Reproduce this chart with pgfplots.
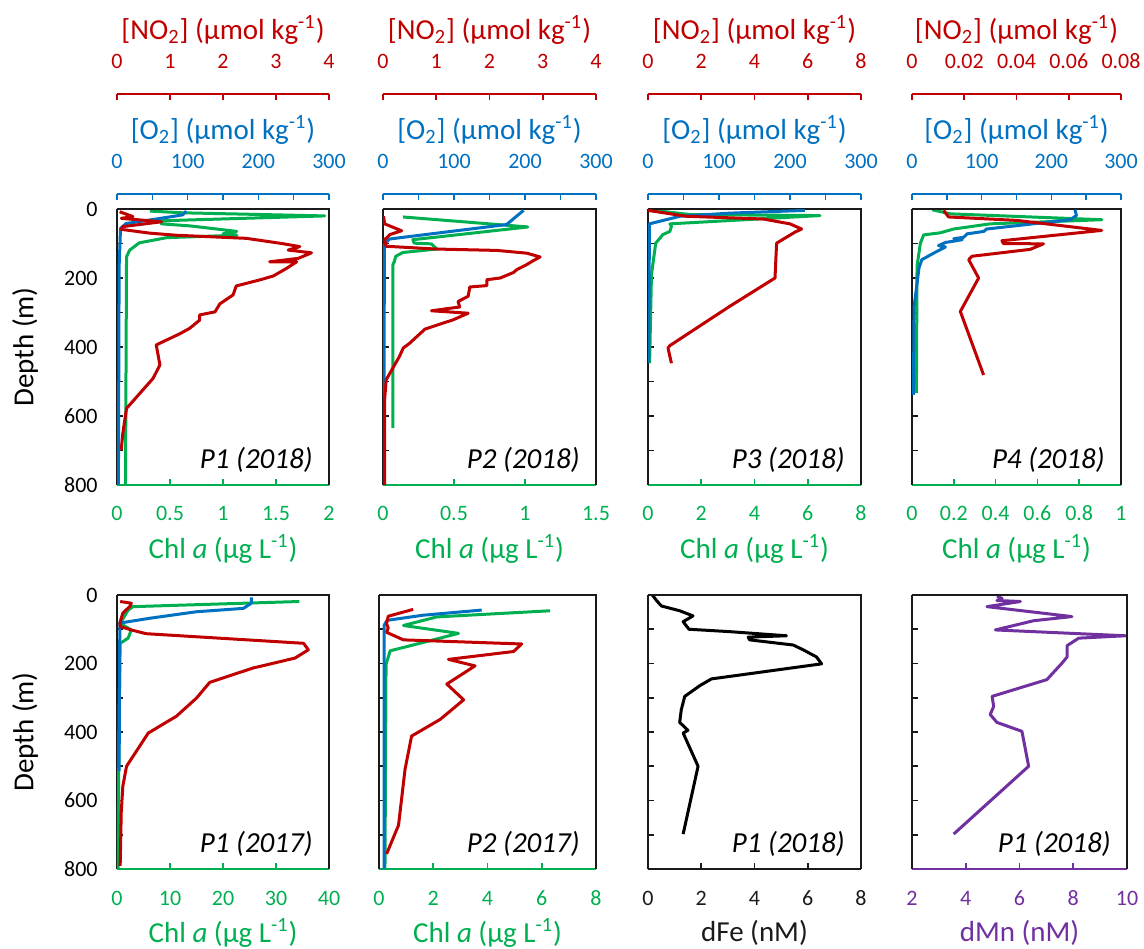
\documentclass[border=0pt]{standalone}
\usepackage{fontspec}
\setmainfont{Carlito}
\usepackage{pgfplots}
\pgfplotsset{compat=1.18}
\definecolor{cred}{HTML}{C00000}
\definecolor{cblue}{HTML}{0070C0}
\definecolor{cgreen}{HTML}{00B050}
\definecolor{cpurple}{HTML}{7030A0}
\definecolor{cframe}{HTML}{1A1A1A}
\newcommand{\tickfont}{\fontsize{11}{13}\selectfont}
\newcommand{\labfont}{\fontsize{14.5}{17}\selectfont}
\newcommand{\unitlab}{(µmol kg\textsuperscript{-1})}
\newcommand{\chllab}{Chl \textit{a} (µg L\textsuperscript{-1})}
\pgfplotsset{
  base/.style={scale only axis, /pgf/number format/assume math mode=true,
    scaled x ticks=false, scaled y ticks=false,
    ticklabel style={font=\tickfont}, label style={font=\labfont}},
  panel/.style={base, anchor=south west, ymin=-800, ymax=0,
    axis x line*=bottom, axis y line*=left,
    y axis line style={-, draw=cframe, line width=0.8pt},
    ytick={-800,-700,...,0}, yticklabels={},
    ytick style={draw=cframe, line width=0.8pt},
    tick align=inside, major tick length=3pt,
    xticklabel style={anchor=base, inner sep=0pt, yshift=-18pt},
    yticklabel style={anchor=east, inner sep=0pt, xshift=-9.5pt},
    clip mode=individual},
  toplab/.style={xlabel style={at={(axis description cs:0.5,-0.232)}, anchor=center}},
  botlab/.style={xlabel style={at={(axis description cs:0.5,-0.234)}, anchor=center}},
  firstcol/.style={yticklabels={800,,600,,400,,200,,0}, ylabel={Depth (m)},
    ylabel style={at={(axis description cs:-0.434,0.5)}, anchor=center}},
  xcol/.style={x axis line style={-, draw=#1, line width=0.8pt},
    xtick style={draw=#1, line width=0.8pt}, xticklabel style={text=#1},
    xlabel style={text=#1}},
  over/.style={scale only axis, anchor=south west, ymin=-800, ymax=0, hide axis},
  sc/.style={base, anchor=north west, height=1pt, ymin=0, ymax=1,
    axis x line*=top, axis y line=none, tick align=inside, major tick length=3pt,
    x axis line style={-, draw=#1, line width=0.8pt},
    xtick style={draw=#1, line width=0.8pt}, xticklabel style={text=#1},
    xlabel style={text=#1},
    xticklabel style={anchor=base, inner sep=0pt, yshift=12.8pt},
    xlabel style={at={(axis description cs:0.5,1)}, anchor=center, yshift=32pt}},
  o2sc/.style={sc=cblue, xmin=0, xmax=300, xtick={0,50,...,300},
    xticklabels={0,,100,,200,,300}, xlabel={[O\textsubscript{2}] \unitlab}},
  every axis plot/.append style={line width=1.5pt, line join=round, no marks},
}
\newcommand{\plab}[1]{\node[anchor=south east, inner sep=0pt, font=\labfont\itshape] at (rel axis cs:1,0) [xshift=-8pt, yshift=6pt] {#1};}
\newcommand{\frm}{\draw[cframe, line width=0.8pt] (rel axis cs:0,1) -- (rel axis cs:1,1) -- (rel axis cs:1,0);}
\begin{document}
\begin{tikzpicture}
\useasboundingbox (0,0) rectangle (572pt,474pt);
% ================= TOP ROW =================
% ---------- P1 2018 ----------
\begin{axis}[panel, firstcol, toplab, xcol=cgreen, at={(58.5pt,231.5pt)}, width=106pt, height=138pt,
  xmin=0, xmax=2, xtick={0,0.5,1,1.5,2}, xticklabels={0,0.5,1,1.5,2}, xlabel={\chllab}]
\addplot[cgreen] table[y expr=-\thisrowno{1}] {
x d
0.31 6
0.62 11
1.96 20
0.43 34
0.42 43
0.69 49
0.97 59
1.13 65
1.00 72
1.13 76
0.47 83
0.21 98
0.12 119
0.09 138
0.08 800
};
\frm
\plab{P1 (2018)}
\end{axis}
\begin{axis}[over, at={(58.5pt,231.5pt)}, width=106pt, height=138pt, xmin=0, xmax=300]
\addplot[cblue] table[y expr=-\thisrowno{1}] {
x d
98 6
93 17
46 32
13 42
5 56
3 167
2 800
};
\end{axis}
\begin{axis}[over, at={(58.5pt,231.5pt)}, width=106pt, height=138pt, xmin=0, xmax=4]
\addplot[cred] table[y expr=-\thisrowno{1}] {
x d
0.05 8
0.30 22
0.08 27
0.84 37
0.11 51
0.08 59
0.62 70
1.12 76
2.44 85
3.11 100
3.45 109
3.23 119
3.67 127
3.42 143
2.88 153
3.39 153
3.20 172
2.95 194
2.73 204
2.25 223
2.19 249
1.94 275
1.85 298
1.56 307
1.56 322
1.37 346
1.18 362
0.74 394
0.81 452
0.68 491
0.18 578
0.11 650
0.08 698
};
\end{axis}
\begin{axis}[o2sc, at={(58.5pt,377pt)}, width=106pt]\end{axis}
\begin{axis}[sc=cred, at={(58.5pt,427pt)}, width=106pt, xmin=0, xmax=4, xtick={0,1,2,3,4},
  xticklabels={0,1,2,3,4}, xlabel={[NO\textsubscript{2}] \unitlab}]\end{axis}
% ---------- P2 2018 ----------
\begin{axis}[panel, toplab, xcol=cgreen, at={(191.5pt,231.5pt)}, width=106.5pt, height=138pt,
  xmin=0, xmax=1.5, xtick={0,0.5,1,1.5}, xticklabels={0,0.5,1,1.5}, xlabel={\chllab}]
\addplot[cgreen] table[y expr=-\thisrowno{1}] {
x d
0.14 23
1.02 52
0.21 89
0.22 99
0.34 101
0.38 116
0.14 126
0.09 137
0.08 152
0.07 161
0.07 635
};
\frm
\plab{P2 (2018)}
\end{axis}
\begin{axis}[over, at={(191.5pt,231.5pt)}, width=106.5pt, height=138pt, xmin=0, xmax=300]
\addplot[cblue] table[y expr=-\thisrowno{1}] {
x d
198 4
174 45
9 87
2 103
1 800
};
\end{axis}
\begin{axis}[over, at={(191.5pt,231.5pt)}, width=106.5pt, height=138pt, xmin=0, xmax=4]
\addplot[cred] table[y expr=-\thisrowno{1}] {
x d
0.01 21
0.03 43
0.35 63
0.13 74
0.03 89
0.06 108
1.00 116
2.14 120
2.70 128
2.95 139
2.83 149
2.70 161
2.51 176
2.45 184
2.20 200
1.95 205
1.95 222
1.63 226
1.60 253
1.41 268
1.44 284
0.91 295
1.60 302
1.32 321
0.79 348
0.50 389
0.38 403
0.31 427
0.06 495
0.03 553
0.03 800
};
\end{axis}
\begin{axis}[o2sc, at={(191.5pt,377pt)}, width=106.5pt]\end{axis}
\begin{axis}[sc=cred, at={(191.5pt,427pt)}, width=106.5pt, xmin=0, xmax=4, xtick={0,1,2,3,4},
  xticklabels={0,1,2,3,4}, xlabel={[NO\textsubscript{2}] \unitlab}]\end{axis}
% ---------- P3 2018 ----------
\begin{axis}[panel, toplab, xcol=cgreen, at={(324pt,231.5pt)}, width=106.5pt, height=138pt,
  xmin=0, xmax=8, xtick={0,2,4,6,8}, xticklabels={0,2,4,6,8}, xlabel={\chllab}]
\addplot[cgreen] table[y expr=-\thisrowno{1}] {
x d
0.25 4
1.57 16
6.46 19
0.82 43
0.88 50
0.82 65
0.56 74
0.29 99
0.13 190
0.06 447
};
\frm
\plab{P3 (2018)}
\end{axis}
\begin{axis}[over, at={(324pt,231.5pt)}, width=106.5pt, height=138pt, xmin=0, xmax=300]
\addplot[cblue] table[y expr=-\thisrowno{1}] {
x d
221 4
115 12
45 21
2 43
1 447
};
\end{axis}
\begin{axis}[over, at={(324pt,231.5pt)}, width=106.5pt, height=138pt, xmin=0, xmax=8]
\addplot[cred] table[y expr=-\thisrowno{1}] {
x d
0 4
1.44 21
4.33 29
5.33 43
5.77 58
5.52 67
4.83 99
4.77 200
3.07 282
0.82 396
0.75 403
0.88 447
};
\end{axis}
\begin{axis}[o2sc, at={(324pt,377pt)}, width=106.5pt]\end{axis}
\begin{axis}[sc=cred, at={(324pt,427pt)}, width=106.5pt, xmin=0, xmax=8, xtick={0,2,4,6,8},
  xticklabels={0,2,4,6,8}, xlabel={[NO\textsubscript{2}] \unitlab}]\end{axis}
% ---------- P4 2018 ----------
\begin{axis}[panel, toplab, xcol=cgreen, at={(456pt,231.5pt)}, width=104.5pt, height=138pt,
  xmin=0, xmax=1, xtick={0,0.2,0.4,0.6,0.8,1}, xticklabels={0,0.2,0.4,0.6,0.8,1}, xlabel={\chllab}]
\addplot[cgreen] table[y expr=-\thisrowno{1}] {
x d
0.096 2
0.183 14
0.908 31
0.374 43
0.199 58
0.135 69
0.056 75
0.040 99
0.024 166
0.021 534
};
\frm
\plab{P4 (2018)}
\end{axis}
\begin{axis}[over, at={(456pt,231.5pt)}, width=104.5pt, height=138pt, xmin=0, xmax=300]
\addplot[cblue] table[y expr=-\thisrowno{1}] {
x d
234 2
236 19
227 31
107 58
103 65
79 72
74 82
60 86
72 89
48 97
38 106
48 110
31 128
14 147
10 171
3 283
2 539
};
\end{axis}
\begin{axis}[over, at={(456pt,231.5pt)}, width=104.5pt, height=138pt, xmin=0, xmax=0.08]
\addplot[cred] table[y expr=-\thisrowno{1}] {
x d
0.0121 4
0.0140 23
0.0401 33
0.0726 62
0.0344 92
0.0350 100
0.0503 101
0.0452 117
0.0229 137
0.0217 147
0.0255 200
0.0185 297
0.0274 481
};
\end{axis}
\begin{axis}[o2sc, at={(456pt,377pt)}, width=104.5pt]\end{axis}
\begin{axis}[sc=cred, at={(456pt,427pt)}, width=104.5pt, xmin=0, xmax=0.08, xtick={0,0.02,0.04,0.06,0.08},
  xticklabels={0,0.02,0.04,0.06,0.08}, xlabel={[NO\textsubscript{2}] \unitlab}]\end{axis}
% ================= BOTTOM ROW =================
% ---------- P1 2017 ----------
\begin{axis}[panel, firstcol, botlab, xcol=cgreen, at={(58.5pt,39.5pt)}, width=106pt, height=137pt,
  xmin=0, xmax=40, xtick={0,10,20,30,40}, xticklabels={0,10,20,30,40}, xlabel={\chllab}]
\addplot[cgreen] table[y expr=-\thisrowno{1}] {
x d
34.4 19
3.0 34
2.1 44
0.8 78
0.5 82
2.7 102
2.1 126
0.6 141
0.4 344
0.2 800
};
\frm
\plab{P1 (2017)}
\end{axis}
\begin{axis}[over, at={(58.5pt,39.5pt)}, width=106pt, height=137pt, xmin=0, xmax=300]
\addplot[cblue] table[y expr=-\thisrowno{1}] {
x d
190 7
190 24
179 39
112 49
46 68
4 82
3 514
};
\end{axis}
\begin{axis}[over, at={(58.5pt,39.5pt)}, width=106pt, height=137pt, xmin=0, xmax=4]
\addplot[cred] table[y expr=-\thisrowno{1}] {
x d
0.06 19
0.27 24
0.25 32
0.11 53
0.06 78
0.06 92
0.27 102
0.55 113
3.52 141
3.61 160
3.36 184
2.82 204
2.57 213
1.75 255
1.50 301
1.12 354
0.59 403
0.18 500
0.11 558
0.08 635
0.06 791
};
\end{axis}
% ---------- P2 2017 ----------
\begin{axis}[panel, botlab, xcol=cgreen, at={(189.5pt,39.5pt)}, width=108.5pt, height=137pt,
  xmin=0, xmax=8, xtick={0,2,4,6,8}, xticklabels={0,2,4,6,8}, xlabel={\chllab}]
\addplot[cgreen] table[y expr=-\thisrowno{1}] {
x d
6.31 46
2.13 64
0.90 89
2.93 112
2.00 131
0.41 163
0.26 203
0.22 800
};
\frm
\plab{P2 (2017)}
\end{axis}
\begin{axis}[over, at={(189.5pt,39.5pt)}, width=108.5pt, height=137pt, xmin=0, xmax=300]
\addplot[cblue] table[y expr=-\thisrowno{1}] {
x d
142 44
61 59
11 74
7 89
7 800
};
\end{axis}
\begin{axis}[over, at={(189.5pt,39.5pt)}, width=108.5pt, height=137pt, xmin=0, xmax=4]
\addplot[cred] table[y expr=-\thisrowno{1}] {
x d
0.63 42
0.17 62
0.14 84
0.17 96
0.14 109
0.45 131
2.63 143
2.48 165
1.28 188
1.77 207
1.25 260
1.56 306
1.13 363
0.60 412
0.48 509
0.36 672
0.14 756
};
\end{axis}
% ---------- dFe ----------
\begin{axis}[panel, botlab, xcol=cframe, at={(324pt,39.5pt)}, width=106.5pt, height=137pt,
  xmin=0, xmax=8, xtick={0,2,4,6,8}, xticklabels={0,2,4,6,8}, xlabel={dFe (nM)}]
\addplot[black] table[y expr=-\thisrowno{1}] {
x d
0.16 0
0.31 15
0.50 32
1.19 46
1.69 61
1.32 78
1.54 100
3.07 107
5.20 119
3.76 123
3.82 131
5.45 146
5.83 160
6.33 181
6.52 201
2.38 245
1.94 265
1.38 296
1.25 335
1.19 372
1.50 395
1.32 403
1.88 500
1.32 698
};
\frm
\plab{P1 (2018)}
\end{axis}
% ---------- dMn ----------
\begin{axis}[panel, botlab, xcol=cpurple, at={(456pt,39.5pt)}, width=107.5pt, height=137pt,
  xmin=2, xmax=10, xtick={2,4,6,8,10}, xticklabels={2,4,6,8,10}, xlabel={dMn (nM)}]
\addplot[cpurple] table[y expr=-\thisrowno{1}] {
x d
5.16 3
5.35 10
5.16 16
6.03 19
4.79 34
7.95 63
6.53 75
5.10 102
9.94 119
8.20 126
7.77 148
7.77 181
7.58 199
7.02 247
4.98 296
5.04 325
4.91 349
5.16 372
6.09 398
6.34 500
3.55 698
};
\frm
\plab{P1 (2018)}
\end{axis}
\end{tikzpicture}
\end{document}
